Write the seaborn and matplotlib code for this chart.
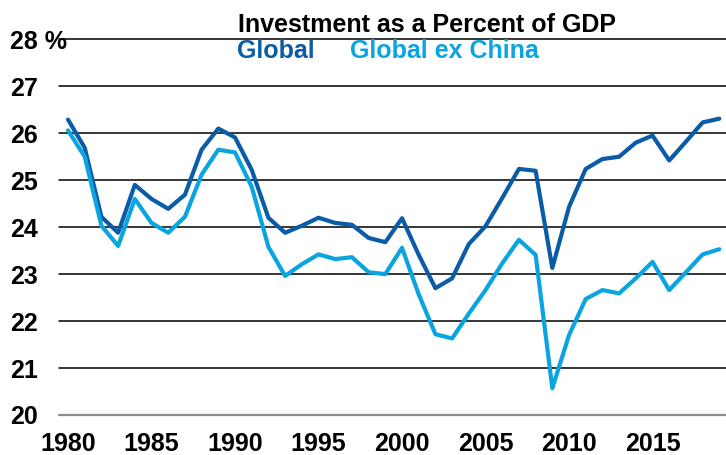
import pandas as pd
import matplotlib.pyplot as plt
import seaborn as sns

years = list(range(1980, 2020))
global_inv = [26.29, 25.69, 24.22, 23.88, 24.90, 24.60, 24.39, 24.69, 25.65, 26.10,
              25.91, 25.22, 24.20, 23.88, 24.03, 24.20, 24.09, 24.05, 23.77, 23.68,
              24.19, 23.41, 22.70, 22.91, 23.64, 24.02, 24.62, 25.24, 25.20, 23.13,
              24.43, 25.24, 25.45, 25.50, 25.80, 25.95, 25.42, 25.82, 26.23, 26.31]
global_ex_china = [26.06, 25.50, 24.03, 23.60, 24.60, 24.09, 23.88, 24.22, 25.12, 25.65,
                   25.59, 24.86, 23.58, 22.96, 23.21, 23.42, 23.32, 23.36, 23.04, 23.00,
                   23.56, 22.57, 21.72, 21.63, 22.16, 22.66, 23.23, 23.73, 23.41, 20.57,
                   21.70, 22.47, 22.66, 22.59, 22.91, 23.26, 22.66, 23.04, 23.42, 23.53]
y_ticks = [20, 21, 22, 23, 24, 25, 26, 27, 28]
y_labels = ['20', '21', '22', '23', '24', '25', '26', '27', '28 %']
x_ticks = [1980, 1985, 1990, 1995, 2000, 2005, 2010, 2015]

dark_blue = '#0a5ca6'
light_blue = '#0aa4e0'

df = pd.DataFrame({'year': years, 'Global': global_inv,
                   'Global ex China': global_ex_china})
long_df = df.melt(id_vars='year', var_name='series', value_name='value')

sns.set_style('white')
plt.rcParams['font.family'] = ['Liberation Sans', 'DejaVu Sans']

fig = plt.figure(figsize=(7.26, 4.55), dpi=100)
ax = fig.add_axes([59 / 726, 1 - 415 / 455, 1 - 59 / 726, (415 - 39.3) / 455])

# horizontal grid lines under the data
for v in y_ticks:
    if v == 20:
        ax.axhline(v, color='#8c8c8c', lw=1.6, zorder=1, clip_on=False)
    else:
        ax.axhline(v, color='black', lw=1.1, zorder=1, clip_on=False)

sns.lineplot(data=long_df, x='year', y='value', hue='series',
             palette={'Global': dark_blue, 'Global ex China': light_blue},
             linewidth=3.0, legend=False, ax=ax, zorder=3)

ax.set_xlim(1979.46, 2019.4)
ax.set_ylim(20, 28)
for s in ax.spines.values():
    s.set_visible(False)

ax.set_yticks(y_ticks)
ax.set_yticklabels(y_labels, fontsize=18, fontweight='bold', color='black')
for lab in ax.get_yticklabels():
    lab.set_horizontalalignment('left')
ax.tick_params(axis='y', length=0, pad=35)

ax.set_xticks(x_ticks)
ax.set_xticklabels([str(x) for x in x_ticks], fontsize=18, fontweight='bold',
                   color='black')
ax.tick_params(axis='x', length=0, pad=12)
ax.set_xlabel('')
ax.set_ylabel('')

fig.text(238 / 726, 1 - 32 / 455, 'Investment as a Percent of GDP',
         fontsize=18, fontweight='bold', color='black', ha='left', va='baseline')
fig.text(237 / 726, 1 - 58 / 455, 'Global', fontsize=18, fontweight='bold',
         color=dark_blue, ha='left', va='baseline')
fig.text(350 / 726, 1 - 58 / 455, 'Global ex China', fontsize=18, fontweight='bold',
         color=light_blue, ha='left', va='baseline')

plt.savefig('out.png', dpi=100)
